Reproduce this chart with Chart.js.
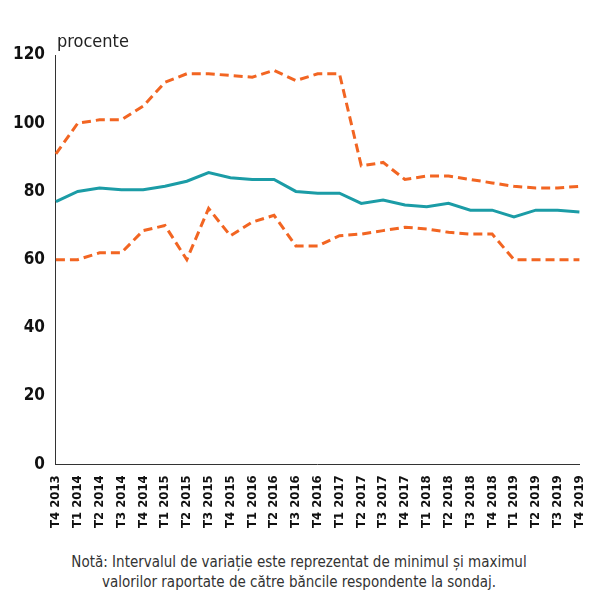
<!DOCTYPE html>
<html>
<head>
<script src="https://cdn.jsdelivr.net/npm/chart.js@4"></script>
<style>
    body { margin: 0; background: #fff; font-family: "DejaVu Sans Condensed", "Liberation Sans Narrow", sans-serif; }
    .wrap { position: relative; width: 598px; height: 596px; }
    .unit { position: absolute; left: 57px; top: 30px; font-size: 18px; color: #222; }
    .note { position: absolute; left: 0; width: 598px; top: 552px; text-align: center; font-size: 15px; color: #333; line-height: 20px; }
</style>
</head>
<body>
<div class="wrap">
    <canvas id="myChart" width="598" height="531"></canvas>
    <div class="unit">procente</div>
    <div class="note">Notă: Intervalul de variație este reprezentat de minimul și maximul<br>valorilor raportate de către băncile respondente la sondaj.</div>
</div>
<script>
    const labels = ['T4 2013',
        'T1 2014', 'T2 2014', 'T3 2014', 'T4 2014',
        'T1 2015', 'T2 2015', 'T3 2015', 'T4 2015',
        'T1 2016', 'T2 2016', 'T3 2016', 'T4 2016',
        'T1 2017', 'T2 2017', 'T3 2017', 'T4 2017',
        'T1 2018', 'T2 2018', 'T3 2018', 'T4 2018',
        'T1 2019', 'T2 2019', 'T3 2019', 'T4 2019'];
    const average = [77, 80, 81, 80.5, 80.5, 81.5, 83, 85.5, 84, 83.5, 83.5, 80, 79.5, 79.5, 76.5, 77.5, 76, 75.5, 76.5, 74.5, 74.5, 72.5, 74.5, 74.5, 74];
    const maximum = [91, 100, 101, 101, 105, 112, 114.5, 114.5, 114, 113.5, 115.5, 112.5, 114.5, 114.5, 87.5, 88.5, 83.5, 84.5, 84.5, 83.5, 82.5, 81.5, 81, 81, 81.5];
    const minimum = [60, 60, 62, 62, 68.5, 70, 60, 75, 67, 71, 73, 64, 64, 67, 67.5, 68.5, 69.5, 69, 68, 67.5, 67.5, 60, 60, 60, 60];

    const orange = '#f26522';
    const teal = '#1b9ca6';
    const font = { family: '"DejaVu Sans Condensed", "Liberation Sans Narrow", sans-serif', size: 13, weight: 'bold' };

    const ctx = document.getElementById('myChart').getContext('2d');
    new Chart(ctx, {
        type: 'line',
        data: {
            labels: labels,
            datasets: [
                { data: maximum, borderColor: orange, borderWidth: 3, borderDash: [9, 5], pointRadius: 0, tension: 0 },
                { data: minimum, borderColor: orange, borderWidth: 3, borderDash: [9, 5], pointRadius: 0, tension: 0 },
                { data: average, borderColor: teal, borderWidth: 3, pointRadius: 0, tension: 0 }
            ]
        },
        options: {
            responsive: false,
            animation: false,
            layout: { padding: { top: 55, right: 9, left: 10 } },
            plugins: { legend: { display: false }, tooltip: { enabled: false } },
            scales: {
                y: {
                    min: 0, max: 120,
                    ticks: { stepSize: 20, color: '#111', font: { ...font, size: 17 } },
                    grid: { display: false },
                    border: { color: '#333' }
                },
                x: {
                    offset: false,
                    ticks: { color: '#111', font: font, minRotation: 90, maxRotation: 90, autoSkip: false },
                    grid: { display: false },
                    border: { color: '#333' }
                }
            }
        }
    });
</script>
</body>
</html>
